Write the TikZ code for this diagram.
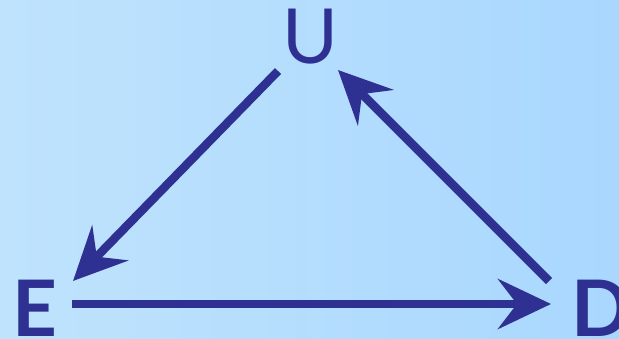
\documentclass[tikz,border=0pt]{standalone}
\usepackage{fontspec}
\setmainfont{Lato}
\usetikzlibrary{arrows.meta}
\definecolor{ink}{HTML}{2E3192}
\definecolor{bgl}{HTML}{BFE3FD}
\definecolor{bgr}{HTML}{A9D7FE}
\tikzset{
  lbl/.style={text=ink, inner sep=0pt, font=\fontsize{76}{76}\selectfont},
  conn/.style={draw=ink, line width=8.5pt, -{Stealth[length=53pt, width=50pt, inset=19pt]}, shorten >=0pt},
}
\begin{document}
\begin{tikzpicture}[x=1pt,y=-1pt]
\fill[left color=bgl, right color=bgr] (0,0) rectangle (619,338);
\useasboundingbox (0,0) rectangle (619,338);
\node[lbl, anchor=base west, font=\fontsize{76}{76}\selectfont] (U) at (282,63) {U};
\node[lbl, anchor=base west, font=\fontsize{78}{78}\selectfont\bfseries] (E) at (12,336) {E};
\node[lbl, anchor=base west, font=\fontsize{78}{78}\selectfont\bfseries] (D) at (571,336) {D};
\coordinate (ue1) at (278,71);
\coordinate (ue2) at (73,281);
\coordinate (ed1) at (72,304);
\coordinate (ed2) at (551,304);
\coordinate (du1) at (549,281);
\coordinate (du2) at (338,70);
\draw[conn] (ue1) -- (ue2);
\draw[conn] (ed1) -- (ed2);
\draw[conn] (du1) -- (du2);
\end{tikzpicture}
\end{document}
